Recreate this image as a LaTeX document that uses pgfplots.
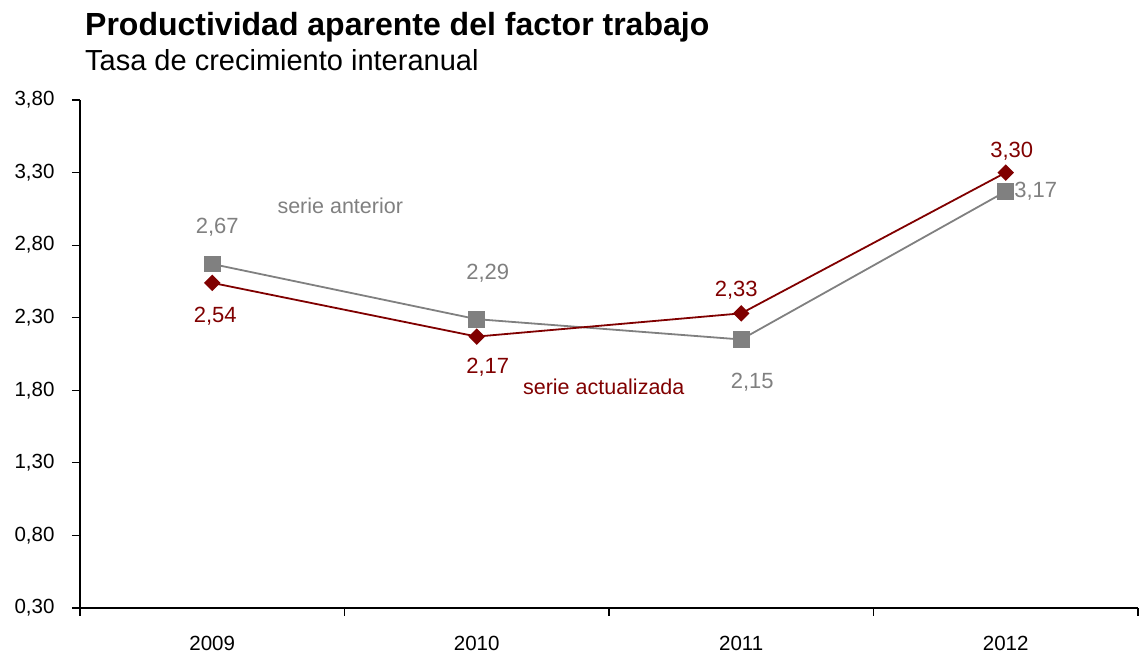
\documentclass[border=0pt]{standalone}
\usepackage{fontspec}
\setmainfont{Liberation Sans}
\usepackage{pgfplots}
\pgfplotsset{compat=1.18}
\definecolor{serieant}{RGB}{128,128,128}
\definecolor{serieact}{RGB}{128,0,0}

\begin{document}
\begin{tikzpicture}
\begin{axis}[
  scale only axis,
  width=1058pt, height=508pt,
  xmin=-0.5, xmax=3.5, ymin=0.3, ymax=3.8,
  axis x line=bottom, axis y line=left,
  axis line style={-, black, line width=1.6pt},
  tick align=outside,
  major tick length=8pt,
  tick style={black, line width=1.2pt},
  xtick={-0.5,0.5,1.5,2.5,3.5}, xticklabels={},
  extra x ticks={0,1,2,3},
  extra x tick labels={2009,2010,2011,2012},
  extra x tick style={major tick length=0pt},
  ytick={0.3,0.8,...,3.8},
  yticklabel style={/pgf/number format/fixed, /pgf/number format/fixed zerofill,
    /pgf/number format/precision=2, /pgf/number format/use comma},
  /pgf/number format/assume math mode=true,
  tick label style={font=\fontsize{20.5}{22}\selectfont},
  xticklabel style={yshift=-25pt},
  yticklabel style={xshift=-14pt},
  clip=false,
]
\addplot[color=serieant, line width=1.8pt, mark=square*, mark size=7.5pt,
  mark options={solid}]
  coordinates {(0,2.67)(1,2.29)(2,2.15)(3,3.17)};
\addplot[color=serieact, line width=1.8pt, mark=diamond*, mark size=7pt,
  mark options={solid, xscale=1.33}]
  coordinates {(0,2.54)(1,2.17)(2,2.33)(3,3.30)};

\begin{scope}[font=\fontsize{22}{24}\selectfont]
\node[text=serieant] at (axis cs:0,2.67) [yshift=37pt, xshift=5pt] {2,67};
\node[text=serieact] at (axis cs:0,2.54) [yshift=-33pt, xshift=3pt] {2,54};
\node[text=serieant] at (axis cs:1,2.29) [yshift=46pt, xshift=11pt] {2,29};
\node[text=serieact] at (axis cs:1,2.17) [yshift=-31pt, xshift=11pt] {2,17};
\node[text=serieact] at (axis cs:2,2.33) [yshift=23pt, xshift=-5pt] {2,33};
\node[text=serieant] at (axis cs:2,2.15) [yshift=-43pt, xshift=11pt] {2,15};
\node[text=serieact] at (axis cs:3,3.30) [yshift=21pt, xshift=6pt] {3,30};
\node[text=serieant, anchor=west] at (axis cs:3,3.17) [xshift=5pt] {3,17};
\end{scope}
\begin{scope}[font=\fontsize{21.5}{23}\selectfont]
\node[text=serieant] at (axis cs:0,2.67) [xshift=128pt, yshift=58pt] {serie anterior};
\node[text=serieact] at (axis cs:1,2.17) [xshift=127pt, yshift=-50pt] {serie actualizada};
\end{scope}
\end{axis}
\node[anchor=base west, inner sep=0pt, font=\fontsize{32}{34}\selectfont\bfseries] at (5pt,572pt)
  {Productividad aparente del factor trabajo};
\node[anchor=base west, inner sep=0pt, font=\fontsize{29}{31}\selectfont] at (5pt,537pt)
  {Tasa de crecimiento interanual};
\pgfresetboundingbox
\useasboundingbox (-80pt,-47pt) rectangle (1061pt,608pt);
\end{tikzpicture}
\end{document}
